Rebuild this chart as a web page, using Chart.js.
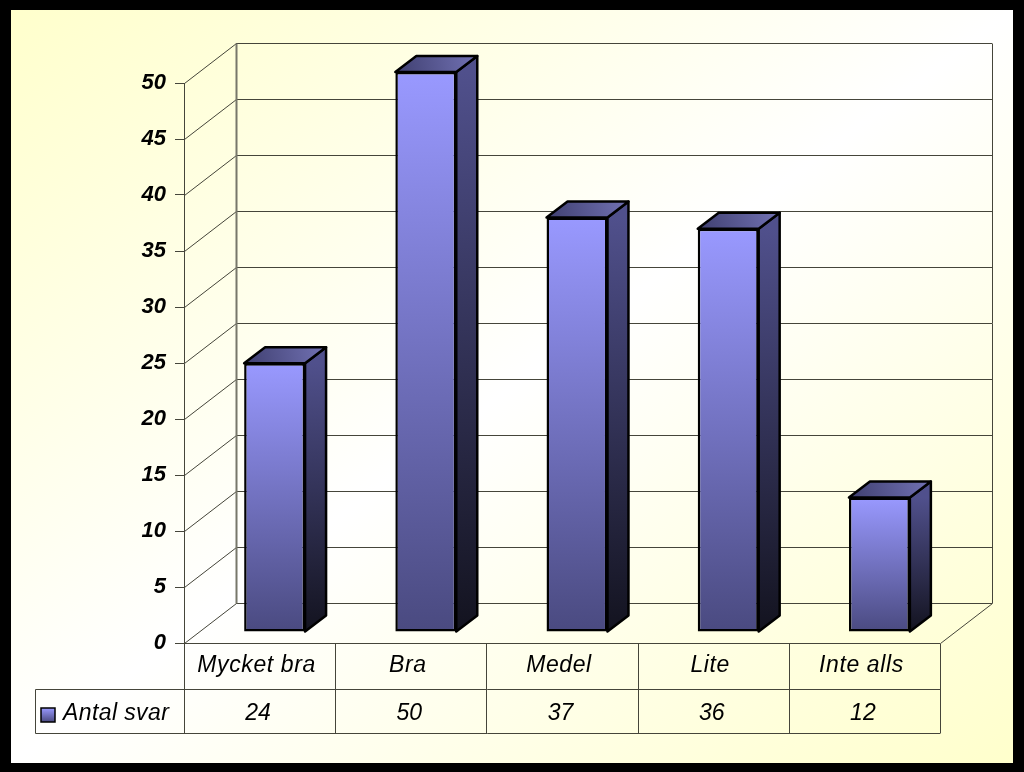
<!DOCTYPE html>
<html><head><meta charset="utf-8">
<style>html,body{margin:0;padding:0;background:#000}canvas{display:block}</style>
<script src="https://cdn.jsdelivr.net/npm/chart.js@4"></script>
</head><body><canvas id="c" width="1024" height="772"></canvas>
<script>
const categories = ['Mycket bra','Bra','Medel','Lite','Inte alls'];
const seriesName = 'Antal svar';
const seriesValues = [24,50,37,36,12];
const FONT = '"Liberation Sans", Arial, sans-serif';
const LINE = '#45453a';
const WALL = {dx:52, dy:-40};
const SHIFT = {dx:15, dy:-11};
const SIDE = {dx:21, dy:-16};

function line(ctx,x1,y1,x2,y2,color,w){
  ctx.beginPath();ctx.moveTo(x1,y1);ctx.lineTo(x2,y2);
  ctx.strokeStyle=color||LINE;ctx.lineWidth=w||1;ctx.stroke();
}
function poly(ctx,pts,fill){
  ctx.beginPath();pts.forEach((p,i)=>i?ctx.lineTo(p[0],p[1]):ctx.moveTo(p[0],p[1]));ctx.closePath();
  ctx.fillStyle=fill;ctx.fill();
  ctx.strokeStyle='#000';ctx.lineWidth=2.5;ctx.lineJoin='round';ctx.stroke();
}
const scene = {
  id:'scene',
  beforeDraw(chart){
    const ctx=chart.ctx,sx=chart.scales.x;
    if(!sx._spaced){
      const orig=sx.drawLabels;
      sx.drawLabels=function(a){ctx.save();ctx.letterSpacing='0.6px';orig.call(this,a);ctx.restore();};
      sx._spaced=true;
    }
    ctx.save();
    ctx.fillStyle='#000';ctx.fillRect(0,0,1024,772);
    const g=ctx.createLinearGradient(512-361.7,386.5-481.3,512+361.7,386.5+481.3);
    g.addColorStop(0,'#ffffcc');g.addColorStop(.5,'#ffffff');g.addColorStop(1,'#ffffcc');
    ctx.fillStyle=g;ctx.fillRect(11,10,1002,753);
    ctx.restore();
  },
  beforeDatasetsDraw(chart){
    const ctx=chart.ctx,a=chart.chartArea,y=chart.scales.y;
    ctx.save();
    y.ticks.forEach(t=>{
      const p=Math.round(y.getPixelForValue(t.value))+.5;
      line(ctx,a.left+.5,p,a.left+WALL.dx+.5,p+WALL.dy);
      if(t.value>0) line(ctx,a.left+WALL.dx,p+WALL.dy,a.right+WALL.dx,p+WALL.dy);
    });
    const b=Math.round(a.bottom)+.5;
    line(ctx,a.left+WALL.dx,b+WALL.dy,a.right+WALL.dx,b+WALL.dy);
    line(ctx,a.right+.5,b,a.right+WALL.dx+.5,b+WALL.dy);
    const top=Math.round(y.getPixelForValue(50))+.5+WALL.dy;
    line(ctx,a.left+WALL.dx+.5,top,a.left+WALL.dx+.5,b+WALL.dy,'#77776a',2);
    line(ctx,a.right+WALL.dx+.5,top,a.right+WALL.dx+.5,b+WALL.dy);
    ctx.restore();
  },
  beforeDatasetDraw(chart){chart.ctx.save();chart.ctx.translate(SHIFT.dx,SHIFT.dy);},
  afterDatasetDraw(chart,args){
    const ctx=chart.ctx;ctx.restore();ctx.save();
    args.meta.data.forEach(el=>{
      const l=el.x-el.width/2+SHIFT.dx,r=el.x+el.width/2+SHIFT.dx,t=el.y+SHIFT.dy,bt=el.base+SHIFT.dy;
      const gs=ctx.createLinearGradient(0,t,0,bt);
      gs.addColorStop(0,'#50508c');gs.addColorStop(1,'#13131f');
      poly(ctx,[[r,t],[r+SIDE.dx,t+SIDE.dy],[r+SIDE.dx,bt+SIDE.dy],[r,bt]],gs);
      const gt=ctx.createLinearGradient(l,t,r+SIDE.dx,t+SIDE.dy);
      gt.addColorStop(0,'#3f3f70');gt.addColorStop(1,'#7272b4');
      poly(ctx,[[l,t],[l+SIDE.dx,t+SIDE.dy],[r+SIDE.dx,t+SIDE.dy],[r,t]],gt);
    });
    ctx.restore();
  },
  afterDraw(chart){
    const ctx=chart.ctx,a=chart.chartArea,x=chart.scales.x;
    const top=Math.round(a.bottom)+.5,mid=689.5,bot=733.5,leg=35.5;
    ctx.save();
    line(ctx,a.right,top,a.left,top);
    line(ctx,leg,mid,a.right,mid);line(ctx,leg,bot,a.right,bot);
    line(ctx,leg,mid,leg,bot);
    const step=(a.right-a.left)/categories.length;
    for(let i=0;i<=categories.length;i++){
      const p=Math.round(a.left+i*step)+.5;line(ctx,p,top,p,bot);
    }
    ctx.fillStyle='#000';ctx.font='italic 23px '+FONT;
    ctx.textBaseline='middle';ctx.textAlign='center';
    seriesValues.forEach((v,i)=>ctx.fillText(String(v),x.getPixelForValue(i)-1.5,713.5));
    ctx.textAlign='left';
    ctx.letterSpacing='0.4px';
    ctx.fillText(seriesName,63,714);
    ctx.letterSpacing='0px';
    const g=ctx.createLinearGradient(0,708,0,722);
    g.addColorStop(0,'#9999ff');g.addColorStop(1,'#4a4a80');
    ctx.fillStyle=g;ctx.fillRect(41,708,14,14);
    ctx.strokeStyle='#000';ctx.lineWidth=1.5;ctx.strokeRect(41,708,14,14);
    ctx.restore();
  }
};
new Chart(document.getElementById('c'),{
  type:'bar',
  data:{labels:categories,datasets:[{
    label:seriesName,data:seriesValues,clip:false,
    categoryPercentage:1,barPercentage:.403,
    borderColor:'#000',borderWidth:2.5,borderSkipped:false,
    backgroundColor(ctx){
      const ch=ctx.chart;
      if(!ch.chartArea||ctx.parsed===undefined) return '#9999ff';
      const y=ch.scales.y,t=y.getPixelForValue(ctx.parsed.y),b=y.getPixelForValue(0);
      const g=ch.ctx.createLinearGradient(0,t,0,b);
      g.addColorStop(0,'#9999ff');g.addColorStop(1,'#4a4a80');
      return g;
    }
  }]},
  options:{
    responsive:false,devicePixelRatio:1,animation:false,
    layout:{padding:{top:83,right:84,left:0,bottom:0}},
    plugins:{legend:{display:false},tooltip:{enabled:false}},
    scales:{
      x:{
        afterFit(s){s.height=129;},
        grid:{display:false},border:{display:false},
        ticks:{color:'#000',padding:1,labelOffset:-3,maxRotation:0,font:{family:FONT,size:23,style:'italic'}}
      },
      y:{
        min:0,max:50,
        afterFit(s){s.width=184;},
        grid:{drawOnChartArea:false,drawTicks:true,tickLength:9,color:LINE},
        border:{display:true,color:LINE,width:1},
        ticks:{stepSize:5,color:'#000',padding:9,font:{family:FONT,size:22,style:'italic',weight:'bold'}}
      }
    }
  },
  plugins:[scene]
});
</script></body></html>
